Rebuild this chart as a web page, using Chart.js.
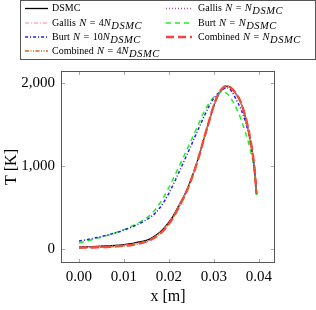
<!DOCTYPE html>
<html>
<head>
<meta charset="utf-8">
<script src="https://cdn.jsdelivr.net/npm/chart.js@4.4.1/dist/chart.umd.min.js"></script>
<style>
  html, body { margin: 0; padding: 0; background: #fff; }
  canvas { display: block; }
</style>
</head>
<body>
<canvas id="c" width="316" height="310"></canvas>
<script>
// ---- data ----
const xValues = [0,0.002,0.004,0.006,0.008,0.010,0.012,0.014,0.015,0.016,0.017,0.018,0.019,0.020,0.021,0.022,0.023,0.024,0.025,0.026,0.027,0.028,0.029,0.030,0.031,0.032,0.033,0.034,0.035,0.036,0.037,0.038,0.039,0.0395];
const dsmc       = [20,23,27,33,40,50,65,88,100,125,160,200,255,320,400,500,600,710,850,1000,1180,1370,1550,1730,1860,1935,1965,1930,1865,1765,1595,1350,990,660];
const gallisN    = [15,18,21,26,32,41,55,78,92,115,148,190,244,310,392,492,595,706,846,998,1180,1372,1555,1735,1865,1940,1968,1932,1867,1767,1598,1352,992,662];
const gallis4N   = [14,17,20,25,31,40,54,77,90,113,146,188,242,308,390,490,592,704,844,996,1178,1370,1552,1732,1862,1938,1966,1930,1866,1766,1596,1350,990,660];
const burtN      = [70,95,125,155,190,230,280,335,370,415,475,550,640,740,850,965,1080,1195,1315,1435,1560,1675,1765,1835,1880,1900,1870,1800,1700,1570,1410,1220,940,650];
const burt10N    = [92,112,135,160,190,225,268,318,348,385,432,495,575,670,780,895,1015,1135,1255,1380,1500,1620,1730,1820,1880,1928,1945,1900,1800,1690,1540,1320,970,660];
const combinedN  = [12,14,17,21,27,35,48,70,85,108,140,180,232,300,380,480,585,700,840,995,1175,1370,1555,1735,1870,1945,1970,1935,1870,1770,1600,1355,995,660];
const combined4N = [10,12,15,19,25,33,46,68,83,106,138,178,230,298,378,478,583,698,838,993,1175,1372,1556,1736,1868,1942,1968,1933,1868,1768,1598,1353,993,658];

const seriesNames = [
  'DSMC',
  'Gallis $N = N_{DSMC}$',
  'Gallis $N = 4N_{DSMC}$',
  'Burt $N = N_{DSMC}$',
  'Burt $N = 10N_{DSMC}$',
  'Combined $N = N_{DSMC}$',
  'Combined $N = 4N_{DSMC}$'
];
const xTicks = [0, 0.01, 0.02, 0.03, 0.04];
const yTicks = [0, 1000, 2000];
const xLabel = 'x [m]';
const yLabel = 'T [K]';

// ---- styles ----
const styles = [
  {color:'#000000', width:1.3, dash:[]},
  {color:'#a64ca6', width:1.3, dash:[1,2]},
  {color:'#ffb0b0', width:1.3, dash:[4,2,1,2]},
  {color:'#22ee22', width:1.5, dash:[5,4]},
  {color:'#2020ff', width:1.5, dash:[3,2,1,2]},
  {color:'#ff4040', width:2.4, dash:[8,4]},
  {color:'#d2691e', width:1.3, dash:[4,1.5,1,1.5,1,1.5]}
];
const seriesValues = [dsmc, gallisN, gallis4N, burtN, burt10N, combinedN, combined4N];

const SERIF = '"Liberation Serif", "Times New Roman", serif';

const datasets = seriesValues.map((vals, i) => ({
  label: seriesNames[i],
  data: xValues.map((x, k) => ({x: x, y: vals[k]})),
  borderColor: styles[i].color,
  borderWidth: styles[i].width,
  borderDash: styles[i].dash,
  pointRadius: 0,
  fill: false,
  cubicInterpolationMode: 'monotone',
  order: seriesValues.length - i
}));

function drawRichLabel(ctx, str, x, y) {
  const parts = str.split('$');
  let cx = x;
  ctx.textBaseline = 'middle';
  ctx.fillStyle = '#000';
  parts.forEach((seg, pi) => {
    if (pi % 2 === 0) {
      ctx.font = '10px ' + SERIF;
      ctx.fillText(seg, cx, y);
      cx += ctx.measureText(seg).width + (seg.endsWith(' ') ? 0.8 : 0);
    } else {
      let i = 0;
      while (i < seg.length) {
        if (seg[i] === '_' && seg[i+1] === '{') {
          const end = seg.indexOf('}', i);
          const sub = seg.slice(i+2, end);
          ctx.font = 'italic 10.5px ' + SERIF;
          cx += 0.5;
          for (const ch of sub) {
            ctx.fillText(ch, cx, y + 3);
            cx += ctx.measureText(ch).width + 0.5;
          }
          i = end + 1;
        } else {
          const ch = seg[i];
          if (ch === ' ') { cx += 3.5; i++; continue; }
          if (/[A-Za-z]/.test(ch)) ctx.font = 'italic 10.5px ' + SERIF;
          else ctx.font = '10px ' + SERIF;
          ctx.fillText(ch, cx, y);
          cx += ctx.measureText(ch).width;
          i++;
        }
      }
    }
  });
}

const legendPlugin = {
  id: 'texLegend',
  afterDraw(chart) {
    const ctx = chart.ctx;
    ctx.save();
    ctx.strokeStyle = '#555';
    ctx.lineWidth = 1;
    ctx.strokeRect(20.5, 0.5, 295, 59);
    const rowY = [8.5, 23, 37, 51];
    const cols = [{lx0:25, lx1:48, tx:52}, {lx0:166, lx1:192, tx:198}];
    chart.data.datasets.forEach((ds, i) => {
      const r = Math.floor(i / 2), c = i % 2;
      const col = cols[c], y = rowY[r];
      ctx.save();
      ctx.strokeStyle = ds.borderColor;
      ctx.lineWidth = ds.borderWidth;
      ctx.setLineDash(ds.borderDash);
      ctx.beginPath();
      ctx.moveTo(col.lx0, y);
      ctx.lineTo(col.lx1, y);
      ctx.stroke();
      ctx.restore();
      drawRichLabel(ctx, ds.label, col.tx, y);
    });
    ctx.restore();
  }
};

const framePlugin = {
  id: 'frame',
  beforeDatasetsDraw(chart) {
    const {ctx, chartArea: a, scales: {x, y}} = chart;
    ctx.save();
    ctx.strokeStyle = '#aaa';
    ctx.lineWidth = 1;
    ctx.beginPath();
    x.ticks.forEach(t => {
      const px = Math.round(x.getPixelForValue(t.value)) + 0.5;
      ctx.moveTo(px, a.bottom); ctx.lineTo(px, a.bottom - 4);
      ctx.moveTo(px, a.top); ctx.lineTo(px, a.top + 4);
    });
    y.ticks.forEach(t => {
      const py = Math.round(y.getPixelForValue(t.value)) + 0.5;
      ctx.moveTo(a.left, py); ctx.lineTo(a.left + 4, py);
      ctx.moveTo(a.right, py); ctx.lineTo(a.right - 4, py);
    });
    ctx.stroke();
    ctx.restore();
  },
  afterDatasetsDraw(chart) {
    const {ctx, chartArea: a} = chart;
    ctx.save();
    ctx.strokeStyle = '#555';
    ctx.lineWidth = 1;
    ctx.strokeRect(Math.round(a.left) + 0.5, Math.round(a.top) + 0.5,
                   Math.round(a.right - a.left) - 1, Math.round(a.bottom - a.top) - 1);
    ctx.restore();
  }
};

new Chart(document.getElementById('c'), {
  type: 'line',
  data: { datasets: datasets },
  options: {
    responsive: false,
    animation: false,
    layout: { padding: { top: 71, right: 41, left: 0, bottom: 0 } },
    plugins: { legend: { display: false }, tooltip: { enabled: false } },
    scales: {
      x: {
        type: 'linear',
        min: -0.004, max: 0.0436,
        grid: { display: false, drawTicks: false },
        border: { display: false },
        afterBuildTicks(s) { s.ticks = xTicks.map(v => ({ value: v })); },
        ticks: {
          maxRotation: 0, autoSkip: false,
          callback: v => v.toFixed(2),
          color: '#000', font: { family: SERIF, size: 15 }, padding: 5
        },
        title: { display: true, text: xLabel, color: '#000', font: { family: SERIF, size: 16 }, padding: { top: 0, bottom: 4 } },
        afterFit(s) { s.height = 47; }
      },
      y: {
        type: 'linear',
        min: -173, max: 2149,
        grid: { display: false, drawTicks: false },
        border: { display: false },
        afterBuildTicks(s) { s.ticks = yTicks.map(v => ({ value: v })); },
        ticks: {
          autoSkip: false,
          callback: v => v.toLocaleString('en-US'),
          color: '#000', font: { family: SERIF, size: 15 }, padding: 6
        },
        title: { display: true, text: yLabel, color: '#000', font: { family: SERIF, size: 16 }, padding: { top: 2, bottom: 0 } },
        afterFit(s) { s.width = 61; }
      }
    }
  },
  plugins: [legendPlugin, framePlugin]
});
</script>
</body>
</html>
